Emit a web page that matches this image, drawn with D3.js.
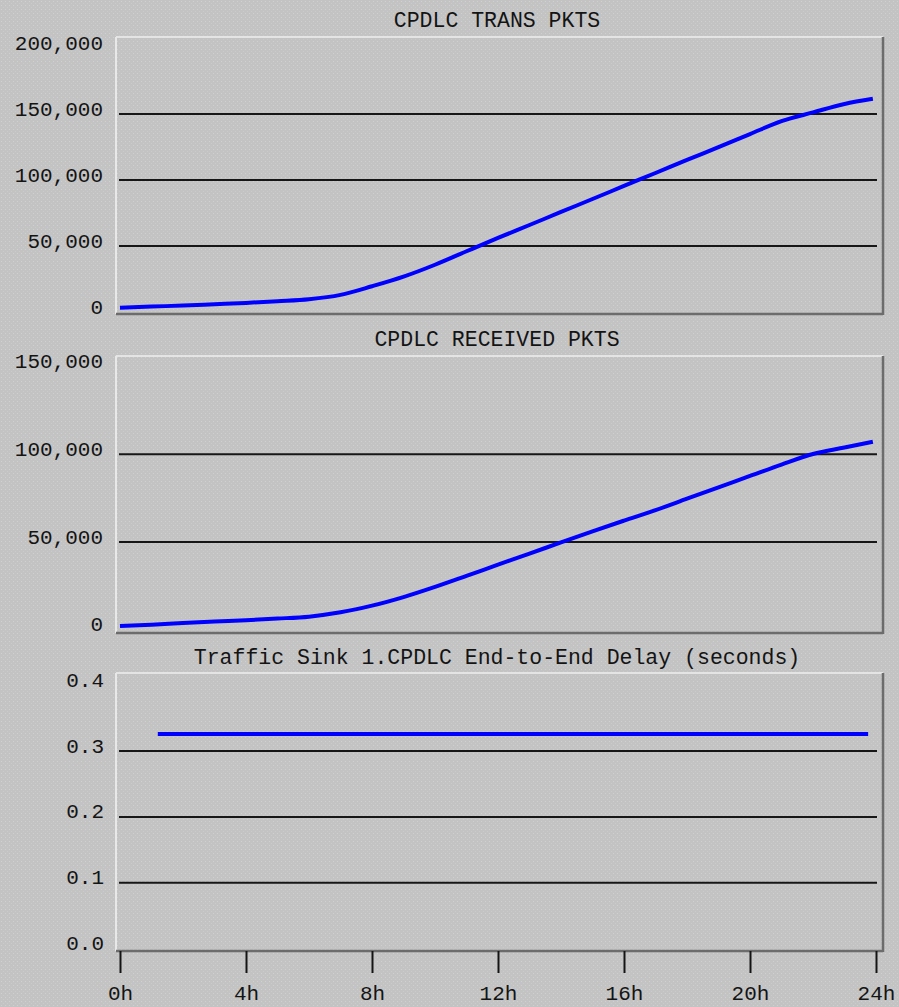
<!DOCTYPE html>
<html>
<head>
<meta charset="utf-8">
<script src="https://cdn.jsdelivr.net/npm/d3@7/dist/d3.min.js"></script>
<style>
  html, body { margin: 0; padding: 0; background: #c4c4c4; }
  svg { display: block; }
  text { font-family: "Liberation Mono", "DejaVu Sans Mono", monospace; fill: #141414; }
</style>
</head>
<body>
<svg id="chart" width="899" height="1007"></svg>
<script>
// Simulation hours at which each statistic was sampled
const hours = [0, 1, 2, 3, 4, 5, 6, 7, 8, 9, 10, 11, 12, 13, 14, 15, 16, 17, 18, 19, 20, 21, 22, 23, 23.9];

// Cumulative CPDLC packets transmitted
const transPkts = [3200, 4100, 4900, 5900, 6900, 8200, 9700, 13000, 19500, 26800, 35800, 46000,
  56100, 65900, 75800, 85600, 95500, 105300, 115200, 124900, 134800, 144600, 151200, 157600, 161500];

// Cumulative CPDLC packets received
const receivedPkts = [2100, 2800, 3800, 4650, 5450, 6350, 7450, 9900, 13700, 18600, 24400, 30700,
  37100, 43400, 49800, 56100, 62200, 68200, 74700, 81200, 87700, 94200, 100200, 103900, 107200];

// End-to-end delay at the traffic sink (seconds)
const delayHours = [1.2, 23.75];
const delayValues = [0.326, 0.326];

// Axis ticks
const transTicks = [0, 50000, 100000, 150000, 200000];
const receivedTicks = [0, 50000, 100000, 150000];
const delayTicks = [0.0, 0.1, 0.2, 0.3, 0.4];
const hourTicks = [0, 4, 8, 12, 16, 20, 24];

const titles = ["CPDLC TRANS PKTS", "CPDLC RECEIVED PKTS", "Traffic Sink 1.CPDLC End-to-End Delay (seconds)"];

const svg = d3.select("#chart");

// dithered grey background
const defs = svg.append("defs");
const pat = defs.append("pattern").attr("id", "dots")
  .attr("width", 4).attr("height", 4).attr("patternUnits", "userSpaceOnUse");
pat.append("rect").attr("width", 4).attr("height", 4).attr("fill", "#c3c3c3");
pat.append("rect").attr("x", 1).attr("y", 1).attr("width", 1).attr("height", 1).attr("fill", "#d0d0d0");
pat.append("rect").attr("x", 3).attr("y", 3).attr("width", 1).attr("height", 1).attr("fill", "#cbcbcb");
svg.append("rect").attr("width", 899).attr("height", 1007).attr("fill", "url(#dots)");

const frameLeft = 116, frameRight = 883;
const gridLeft = 119, gridRight = 877;

const x = d3.scaleLinear().domain([0, 24]).range([120, 876]);

const panels = [
  { title: titles[0], xs: hours, ys: transPkts, domain: [0, 200000], range: [312, 48],
    top: 37, bottom: 314, ticks: transTicks, fmt: d3.format(","), titleY: 27, labelX: 103 },
  { title: titles[1], xs: hours, ys: receivedPkts, domain: [0, 150000], range: [629.7, 366.7],
    top: 356, bottom: 633, ticks: receivedTicks, fmt: d3.format(","), titleY: 346, labelX: 103 },
  { title: titles[2], xs: delayHours, ys: delayValues, domain: [0, 0.4], range: [948.5, 685.3],
    top: 673, bottom: 951, ticks: delayTicks, fmt: d3.format(".1f"), titleY: 664, labelX: 104 }
];

panels.forEach((p, i) => {
  const y = d3.scaleLinear().domain(p.domain).range(p.range);
  const g = svg.append("g");

  // plot area with bevelled frame
  g.append("rect").attr("x", frameLeft).attr("y", p.top)
    .attr("width", frameRight - frameLeft).attr("height", p.bottom - p.top)
    .attr("fill", "url(#dots)");
  g.append("line").attr("x1", frameLeft).attr("x2", frameRight).attr("y1", p.top).attr("y2", p.top)
    .attr("stroke", "#e4e4e4").attr("stroke-width", 2);
  g.append("line").attr("x1", frameLeft).attr("x2", frameLeft).attr("y1", p.top).attr("y2", p.bottom)
    .attr("stroke", "#e8e8e8").attr("stroke-width", 2);
  g.append("line").attr("x1", frameRight).attr("x2", frameRight).attr("y1", p.top).attr("y2", p.bottom + 1)
    .attr("stroke", "#6c6c6c").attr("stroke-width", 2.5);
  g.append("line").attr("x1", frameLeft).attr("x2", frameRight).attr("y1", p.bottom).attr("y2", p.bottom)
    .attr("stroke", "#6c6c6c").attr("stroke-width", 2.5);

  // horizontal grid lines at the inner ticks
  const inner = p.ticks.slice(1, -1);
  g.selectAll(".grid").data(inner).join("line")
    .attr("x1", gridLeft).attr("x2", gridRight)
    .attr("y1", d => y(d)).attr("y2", d => y(d))
    .attr("stroke", "#161616").attr("stroke-width", 2);

  // y axis labels
  const yAxis = d3.axisLeft(y).tickValues(p.ticks).tickFormat(p.fmt).tickSize(0).tickPadding(0);
  const ya = g.append("g").attr("transform", `translate(${p.labelX},0)`).call(yAxis);
  ya.select(".domain").remove();
  ya.selectAll("text").attr("dy", 1).style("font-size", "21px")
    .style("font-family", "'Liberation Mono', monospace").attr("fill", "#141414");

  // title
  g.append("text").attr("x", 497).attr("y", p.titleY).attr("text-anchor", "middle")
    .style("font-size", "21.5px").text(p.title);

  // data line
  const line = d3.line().x(d => x(d[0])).y(d => y(d[1])).curve(d3.curveMonotoneX);
  g.append("path").datum(p.xs.map((h, k) => [h, p.ys[k]]))
    .attr("d", line).attr("fill", "none").attr("stroke", "#0000ff").attr("stroke-width", 4)
    .attr("stroke-linejoin", "round");

  // time axis beneath the last panel
  if (i === panels.length - 1) {
    const xAxis = d3.axisBottom(x).tickValues(hourTicks).tickFormat(d => d + "h")
      .tickSize(22).tickPadding(12);
    const xa = g.append("g").attr("transform", `translate(0,${p.bottom})`).call(xAxis);
    xa.select(".domain").remove();
    xa.selectAll("line").attr("stroke", "#141414").attr("stroke-width", 2);
    xa.selectAll("text").style("font-size", "21px")
      .style("font-family", "'Liberation Mono', monospace").attr("fill", "#141414");
  }
});
</script>
</body>
</html>
